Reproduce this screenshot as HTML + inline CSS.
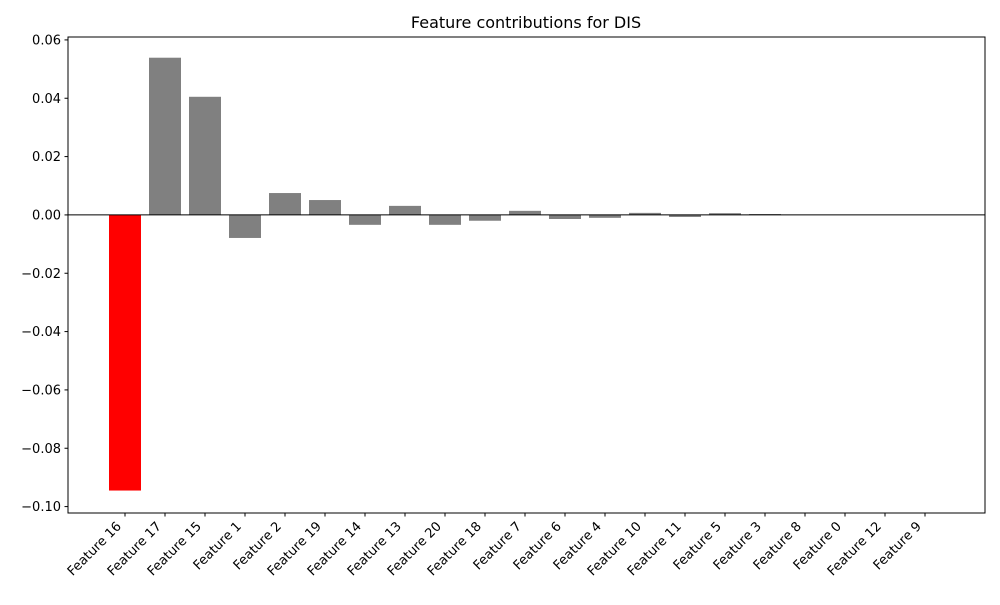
<!DOCTYPE html>
<html><head><meta charset="utf-8"><style>
body{margin:0;background:#fff;}
svg text{font-family:"DejaVu Sans","Liberation Sans",sans-serif;}
</style></head><body>
<svg id="c" width="1000" height="600" xmlns="http://www.w3.org/2000/svg">
<rect width="1000" height="600" fill="#fff"/>
<text x="526" y="28" font-size="16" text-anchor="middle">Feature contributions for DIS</text>
<g id="bars"></g>
<g id="yax"></g>
<g id="xax"></g>
<rect x="68" y="37" width="917" height="476" fill="none" stroke="#000" stroke-width="1"/>
</svg>
<script>
const categories=["Feature 16","Feature 17","Feature 15","Feature 1","Feature 2","Feature 19","Feature 14","Feature 13","Feature 20","Feature 18","Feature 7","Feature 6","Feature 4","Feature 10","Feature 11","Feature 5","Feature 3","Feature 8","Feature 0","Feature 12","Feature 9"];
const values=[-0.0945,0.0539,0.0405,-0.0079,0.0075,0.0051,-0.0034,0.0031,-0.0034,-0.0020,0.0014,-0.0014,-0.0010,0.0007,-0.0007,0.0006,0.0003,0.0001,0.0001,0.0000,0.0000];
const yTicks=[0.06,0.04,0.02,0.00,-0.02,-0.04,-0.06,-0.08,-0.10];
const yTickLabels=["0.06","0.04","0.02","0.00","\u22120.02","\u22120.04","\u22120.06","\u22120.08","\u22120.10"];
const NS="http://www.w3.org/2000/svg";
const L=68,R=985,T=37,B=513;
const xmin=-1.425,xmax=21.5,ymin=-0.1022,ymax=0.0610;
const xs=i=>L+(i-xmin)/(xmax-xmin)*(R-L);
const ys=v=>B-(v-ymin)/(ymax-ymin)*(B-T);
function mk(t,a,p){const e=document.createElementNS(NS,t);for(const k in a)e.setAttribute(k,a[k]);p.appendChild(e);return e;}
const bars=document.getElementById('bars'),yax=document.getElementById('yax'),xax=document.getElementById('xax');
const bw=xs(0.8)-xs(0);
const maxAbs=Math.max(...values.map(Math.abs));
values.forEach((v,i)=>{
 const y0=ys(0),y1=ys(v);
 const r=mk('rect',{x:xs(i)-bw/2,y:Math.min(y0,y1),width:bw,height:Math.abs(y1-y0),fill:Math.abs(v)===maxAbs?'#ff0000':'#808080'},bars);
 
 
 const tk=mk('line',{x1:xs(i),x2:xs(i),y1:B,y2:B+3.5,stroke:'#000'},xax);
 
 
 const tx=xs(i)-3,ty=B+14;
 const t=mk('text',{x:tx,y:ty,'font-size':13,'text-anchor':'end',transform:`rotate(-45 ${tx} ${ty})`},xax);
 t.textContent=categories[i];
 
 
});
const zl=mk('line',{x1:L,x2:R,y1:ys(0),y2:ys(0),stroke:'#000','stroke-width':1},bars);


yTicks.forEach((v,i)=>{
 const tk=mk('line',{x1:L-3.5,x2:L,y1:ys(v),y2:ys(v),stroke:'#000'},yax);
 
 
 const t=mk('text',{x:L-7,y:ys(v)+4.5,'font-size':13,'text-anchor':'end'},yax);
 t.textContent=yTickLabels[i];
 
 
});
</script>
</body></html>
